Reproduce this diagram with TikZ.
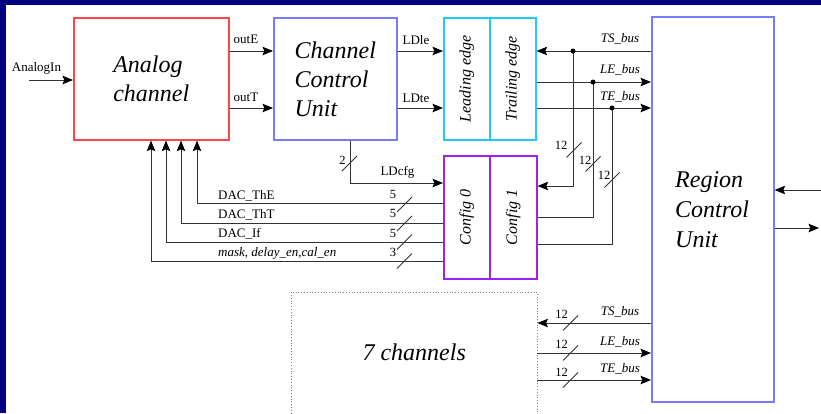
\documentclass[tikz,border=0pt]{standalone}
\usepackage{fontspec}
\setmainfont{Liberation Serif}
\usetikzlibrary{arrows.meta,calc}
\definecolor{framenavy}{HTML}{000080}
\definecolor{analogred}{HTML}{FF4545}
\definecolor{unitblue}{HTML}{7A7AFF}
\definecolor{edgecyan}{HTML}{1ECBF5}
\definecolor{cfgpurple}{HTML}{A020F0}
\definecolor{wirecol}{HTML}{333333}
\tikzset{
  blk/.style={draw, line width=1.6pt, anchor=north west, inner sep=0pt,
    font=\fontsize{24}{29}\selectfont\itshape, align=left},
  vlabel/.style={rotate=90, inner sep=0pt, font=\fontsize{16}{19}\selectfont\itshape},
  wire/.style={draw=wirecol, line width=0.85pt},
  arr/.style={wire, -{Stealth[length=10.5pt,width=8.5pt,inset=1.8pt,color=black]}},
  lbl/.style={inner sep=0pt, font=\fontsize{13}{15}\selectfont},
  buslbl/.style={inner sep=0pt, font=\fontsize{13}{15}\selectfont\itshape},
  numlbl/.style={inner sep=0pt, font=\fontsize{12.5}{15}\selectfont},
  jdot/.style={circle, fill=black, inner sep=0pt, minimum size=5pt},
  busmark/.pic={\draw[wire] (-7.5,7.5) -- (7.5,-7.5);}
}
\begin{document}
\begin{tikzpicture}[x=1pt,y=-1pt]
  \useasboundingbox (0,0) rectangle (821,413);
  % page frame
  \fill[framenavy] (0,0) rectangle (821,413);
  \fill[white] (6,5) rectangle (821,413);

  % blocks
  \node[blk, draw=analogred, minimum width=155pt, minimum height=122pt] (analog) at (73,17) {Analog\\channel};
  \node[blk, draw=unitblue, minimum width=123pt, minimum height=122pt] (ccu) at (273,17) {Channel\\Control\\Unit};
  \node[blk, draw=edgecyan, minimum width=46pt, minimum height=122pt] (lead) at (443,17) {};
  \node[blk, draw=edgecyan, minimum width=46pt, minimum height=122pt] (trail) at (489,17) {};
  \node[vlabel] (leadtxt) at (lead.center) {Leading edge};
  \node[vlabel] (trailtxt) at (trail.center) {Trailing edge};
  \node[blk, draw=cfgpurple, minimum width=46pt, minimum height=123pt] (cfg0) at (443,155) {};
  \node[blk, draw=cfgpurple, minimum width=47pt, minimum height=123pt] (cfg1) at (489,155) {};
  \node[vlabel] (cfg0txt) at (cfg0.center) {Config 0};
  \node[vlabel] (cfg1txt) at (cfg1.center) {Config 1};
  \node[blk, draw=unitblue, minimum width=122pt, minimum height=385pt] (rcu) at (651,16) {};
  \node[anchor=north west, inner sep=0pt, align=left, font=\fontsize{24}{30}\selectfont\itshape] (rcutxt) at (675,171) {Region\\Control\\Unit};
  \node[anchor=north west, inner sep=0pt, minimum width=246pt, minimum height=121pt,
    font=\fontsize{24}{29}\selectfont\itshape] (seven) at (291,292) {7 channels};
  \draw[dotted, draw=gray, line width=0.8pt] (seven.south west) |- (seven.north east) -- (seven.south east);

  % analog input
  \coordinate (ain) at (29,80);
  \draw[arr] (ain) -- (ain -| analog.west);
  \node[lbl, anchor=base] (ainlbl) at (36.5,71) {AnalogIn};

  % analog channel -> channel control unit
  \coordinate (yE) at (0,51);
  \coordinate (yT) at (0,108);
  \draw[arr] (analog.east |- yE) -- (ccu.west |- yE);
  \draw[arr] (analog.east |- yT) -- (ccu.west |- yT);
  \node[lbl, anchor=base] (outElbl) at (246,43) {outE};
  \node[lbl, anchor=base] (outTlbl) at (246,101) {outT};

  % channel control unit -> leading edge
  \draw[arr] (ccu.east |- yE) -- (lead.west |- yE);
  \draw[arr] (ccu.east |- yT) -- (lead.west |- yT);
  \node[lbl, anchor=base] (LDlelbl) at (416,44) {LDle};
  \node[lbl, anchor=base] (LDtelbl) at (416,102) {LDte};

  % LDcfg
  \coordinate (ldc) at (350,183);
  \draw[arr] (ldc |- ccu.south) -- (ldc) -- (ldc -| cfg0.west);
  \pic at (349.5,163.5) {busmark};
  \node[numlbl] (n2) at (342.5,160) {2};
  \node[lbl] (ldcfglbl) at (397.5,172) {LDcfg};

  % configuration lines back to the analog channel
  \coordinate (dThE) at (197,203);
  \coordinate (dThT) at (181,223);
  \coordinate (dIf) at (166,242);
  \coordinate (dMask) at (151,261);
  \draw[arr] (dThE -| cfg0.west) -- (dThE) -- (dThE |- analog.south);
  \draw[arr] (dThT -| cfg0.west) -- (dThT) -- (dThT |- analog.south);
  \draw[arr] (dIf -| cfg0.west) -- (dIf) -- (dIf |- analog.south);
  \draw[arr] (dMask -| cfg0.west) -- (dMask) -- (dMask |- analog.south);
  \node[lbl, anchor=base west] (lThE) at (218,199) {DAC\_ThE};
  \node[lbl, anchor=base west] (lThT) at (218,218) {DAC\_ThT};
  \node[lbl, anchor=base west] (lIf) at (218,237.5) {DAC\_If};
  \node[buslbl, anchor=base west] (lMask) at (218,256) {mask, delay\_en,cal\_en};
  \pic at (404.5,204.5) {busmark};
  \pic at (404.5,223.5) {busmark};
  \pic at (404.5,242) {busmark};
  \pic at (404.5,261) {busmark};
  \node[numlbl] (w1) at (393,194.5) {5};
  \node[numlbl] (w2) at (393,213.5) {5};
  \node[numlbl] (w3) at (393,233) {5};
  \node[numlbl] (w4) at (393,252) {3};

  % buses between the edge block and the region control unit
  \coordinate (jTS) at (573,51);
  \coordinate (jLE) at (593,82);
  \coordinate (jTE) at (612,108);
  \draw[arr] (jTS -| rcu.west) -- (jTS -| trail.east);
  \draw[arr] (jLE -| trail.east) -- (jLE -| rcu.west);
  \draw[arr] (jTE -| trail.east) -- (jTE -| rcu.west);
  \node[buslbl, anchor=base] (tTS) at (620,42) {TS\_bus};
  \node[buslbl, anchor=base] (tLE) at (620,73.5) {LE\_bus};
  \node[buslbl, anchor=base] (tTE) at (620,100) {TE\_bus};

  % taps into config 1
  \coordinate (cTS) at (573,186);
  \coordinate (cLE) at (593,217);
  \coordinate (cTE) at (612,244);
  \draw[arr] (jTS) -- (cTS) -- (cTS -| cfg1.east);
  \draw[wire] (jLE) -- (cLE) -- (cLE -| cfg1.east);
  \draw[wire] (jTE) -- (cTE) -- (cTE -| cfg1.east);
  \node[jdot] (dTS) at (jTS) {};
  \node[jdot] (dLE) at (jLE) {};
  \node[jdot] (dTE) at (jTE) {};
  \pic at (574,150) {busmark};
  \pic at (593,164) {busmark};
  \pic at (612,180) {busmark};
  \node[numlbl] (m1) at (561,145) {12};
  \node[numlbl] (m2) at (585,160) {12};
  \node[numlbl] (m3) at (604,175) {12};

  % buses to the other channels
  \coordinate (bTS) at (600,323);
  \coordinate (bLE) at (600,353);
  \coordinate (bTE) at (600,380);
  \draw[arr] (bTS -| rcu.west) -- (bTS -| seven.east);
  \draw[arr] (bLE -| seven.east) -- (bLE -| rcu.west);
  \draw[arr] (bTE -| seven.east) -- (bTE -| rcu.west);
  \pic at (570.5,323) {busmark};
  \pic at (570.5,353) {busmark};
  \pic at (570.5,380) {busmark};
  \node[numlbl] (k1) at (561.5,314) {12};
  \node[numlbl] (k2) at (561.5,344) {12};
  \node[numlbl] (k3) at (561.5,372) {12};
  \node[buslbl, anchor=base] (bTSl) at (620,315.5) {TS\_bus};
  \node[buslbl, anchor=base] (bLEl) at (620,345.5) {LE\_bus};
  \node[buslbl, anchor=base] (bTEl) at (620,372.5) {TE\_bus};

  % region control unit external ports
  \coordinate (rin) at (821,190);
  \coordinate (rout) at (819,228);
  \draw[arr] (rin) -- (rin -| rcu.east);
  \draw[arr] (rout -| rcu.east) -- (rout);
\end{tikzpicture}
\end{document}
